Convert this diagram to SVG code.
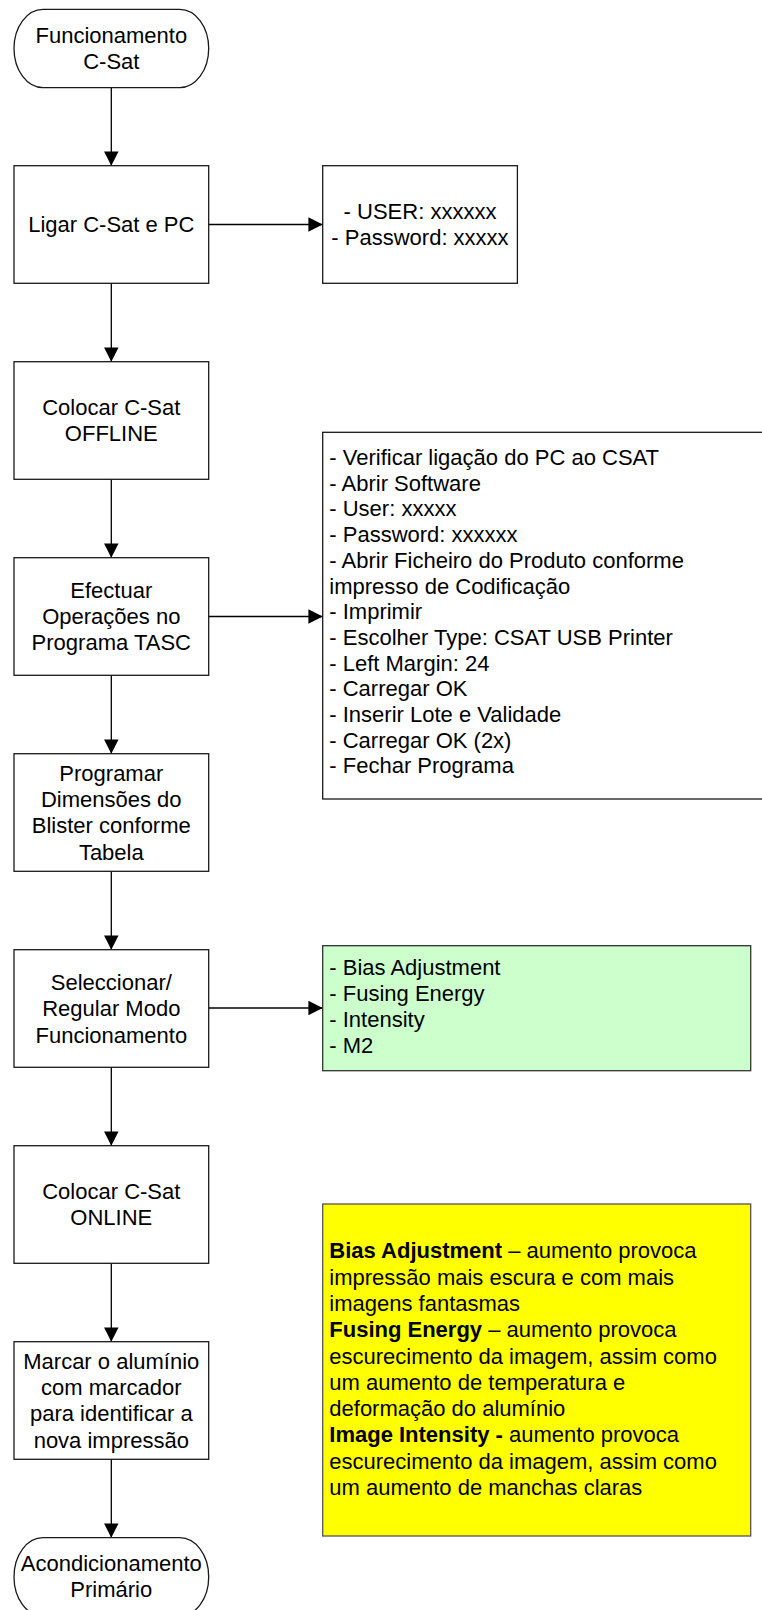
<svg xmlns="http://www.w3.org/2000/svg" width="762" height="1610" viewBox="0 0 762 1610">
  <defs>
    <marker id="arrow" markerWidth="14.5" markerHeight="14.5" refX="14.3" refY="7.25" orient="auto" markerUnits="userSpaceOnUse">
      <path d="M0,0 L14.3,7.25 L0,14.5 Z" fill="#000"/>
    </marker>
    <style>
      .box { fill: #fff; stroke: #1a1a1a; stroke-width: 1.3; }
      .note { fill: #fff; stroke: #1a1a1a; stroke-width: 1.3; }
      .green { fill: #ccffcc; stroke: #333; stroke-width: 1.3; }
      .yellow { fill: #ffff00; stroke: #555; stroke-width: 1.3; }
      .edge { fill: none; stroke: #000; stroke-width: 1.3; marker-end: url(#arrow); }
      text { font-family: "Liberation Sans", Arial, sans-serif; font-size: 22px; fill: #000; }
      .c { text-anchor: middle; }
      .b { font-weight: bold; }
    </style>
  </defs>

  <rect width="762" height="1610" fill="#fff"/>

  <!-- connectors -->
  <g id="connectors">
    <line class="edge" x1="111.3" y1="87.7" x2="111.3" y2="165.7"/>
    <line class="edge" x1="208.7" y1="224.5" x2="322.7" y2="224.5"/>
    <line class="edge" x1="111.3" y1="283.3" x2="111.3" y2="361.7"/>
    <line class="edge" x1="111.3" y1="479.3" x2="111.3" y2="557.7"/>
    <line class="edge" x1="208.7" y1="616.5" x2="322.7" y2="616.5"/>
    <line class="edge" x1="111.3" y1="675.3" x2="111.3" y2="753.7"/>
    <line class="edge" x1="111.3" y1="871.3" x2="111.3" y2="949.7"/>
    <line class="edge" x1="208.7" y1="1008" x2="322.7" y2="1008"/>
    <line class="edge" x1="111.3" y1="1067.3" x2="111.3" y2="1145.7"/>
    <line class="edge" x1="111.3" y1="1263.3" x2="111.3" y2="1341.7"/>
    <line class="edge" x1="111.3" y1="1459.3" x2="111.3" y2="1537.7"/>
  </g>

  <!-- start terminator -->
  <g id="start">
    <rect class="box" x="14" y="9.3" width="194.7" height="78.4" rx="29" ry="39.2"/>
    <text class="c" x="111.3" y="42.5">Funcionamento</text>
    <text class="c" x="111.3" y="68.8">C-Sat</text>
  </g>

  <g id="ligar">
    <rect class="box" x="14" y="165.7" width="194.7" height="117.6"/>
    <text class="c" x="111.3" y="232.2">Ligar C-Sat e PC</text>
  </g>

  <g id="credenciais">
    <rect class="note" x="322.7" y="165.7" width="194.7" height="117.6"/>
    <text class="c" x="420" y="218.5">- USER: xxxxxx</text>
    <text class="c" x="420" y="244.8">- Password: xxxxx</text>
  </g>

  <g id="offline">
    <rect class="box" x="14" y="361.7" width="194.7" height="117.6"/>
    <text class="c" x="111.3" y="415">Colocar C-Sat</text>
    <text class="c" x="111.3" y="441.3">OFFLINE</text>
  </g>

  <g id="tasc">
    <rect class="box" x="14" y="557.7" width="194.7" height="117.6"/>
    <text class="c" x="111.3" y="597.5">Efectuar</text>
    <text class="c" x="111.3" y="623.8">Operações no</text>
    <text class="c" x="111.3" y="650.1">Programa TASC</text>
  </g>

  <g id="passos-tasc">
    <rect class="note" x="322.7" y="432.3" width="460" height="366.7"/>
    <text x="329.3" y="465">- Verificar ligação do PC ao CSAT</text>
    <text x="329.3" y="490.7">- Abrir Software</text>
    <text x="329.3" y="516.4">- User: xxxxx</text>
    <text x="329.3" y="542.1">- Password: xxxxxx</text>
    <text x="329.3" y="567.8">- Abrir Ficheiro do Produto conforme</text>
    <text x="329.3" y="593.5">impresso de Codificação</text>
    <text x="329.3" y="619.2">- Imprimir</text>
    <text x="329.3" y="644.9">- Escolher Type: CSAT USB Printer</text>
    <text x="329.3" y="670.6">- Left Margin: 24</text>
    <text x="329.3" y="696.3">- Carregar OK</text>
    <text x="329.3" y="722">- Inserir Lote e Validade</text>
    <text x="329.3" y="747.7">- Carregar OK (2x)</text>
    <text x="329.3" y="773.4">- Fechar Programa</text>
  </g>

  <g id="dimensoes">
    <rect class="box" x="14" y="753.7" width="194.7" height="117.6"/>
    <text class="c" x="111.3" y="780.8">Programar</text>
    <text class="c" x="111.3" y="807.1">Dimensões do</text>
    <text class="c" x="111.3" y="833.4">Blister conforme</text>
    <text class="c" x="111.3" y="859.7">Tabela</text>
  </g>

  <g id="modo">
    <rect class="box" x="14" y="949.7" width="194.7" height="117.6"/>
    <text class="c" x="111.3" y="989.9">Seleccionar/</text>
    <text class="c" x="111.3" y="1016.2">Regular Modo</text>
    <text class="c" x="111.3" y="1042.5">Funcionamento</text>
  </g>

  <g id="parametros">
    <rect class="green" x="322.7" y="945.7" width="428" height="125"/>
    <text x="329.3" y="974.5">- Bias Adjustment</text>
    <text x="329.3" y="1000.5">- Fusing Energy</text>
    <text x="329.3" y="1026.5">- Intensity</text>
    <text x="329.3" y="1052.5">- M2</text>
  </g>

  <g id="online">
    <rect class="box" x="14" y="1145.7" width="194.7" height="117.6"/>
    <text class="c" x="111.3" y="1198.5">Colocar C-Sat</text>
    <text class="c" x="111.3" y="1224.8">ONLINE</text>
  </g>

  <g id="efeitos">
    <rect class="yellow" x="322.7" y="1204" width="428" height="332"/>
    <text x="329.3" y="1258.3"><tspan class="b">Bias Adjustment</tspan> – aumento provoca</text>
    <text x="329.3" y="1284.6">impressão mais escura e com mais</text>
    <text x="329.3" y="1310.9">imagens fantasmas</text>
    <text x="329.3" y="1337.2"><tspan class="b">Fusing Energy</tspan> – aumento provoca</text>
    <text x="329.3" y="1363.5">escurecimento da imagem, assim como</text>
    <text x="329.3" y="1389.8">um aumento de temperatura e</text>
    <text x="329.3" y="1416.1">deformação do alumínio</text>
    <text x="329.3" y="1442.4"><tspan class="b">Image Intensity -</tspan> aumento provoca</text>
    <text x="329.3" y="1468.7">escurecimento da imagem, assim como</text>
    <text x="329.3" y="1495">um aumento de manchas claras</text>
  </g>

  <g id="marcar">
    <rect class="box" x="14" y="1341.7" width="194.7" height="117.6"/>
    <text class="c" x="111.3" y="1368.8">Marcar o alumínio</text>
    <text class="c" x="111.3" y="1395.1">com marcador</text>
    <text class="c" x="111.3" y="1421.4">para identificar a</text>
    <text class="c" x="111.3" y="1447.7">nova impressão</text>
  </g>

  <!-- end terminator -->
  <g id="fim">
    <rect class="box" x="14" y="1537.7" width="194.7" height="78.4" rx="29" ry="39.2"/>
    <text class="c" x="111.3" y="1570.5">Acondicionamento</text>
    <text class="c" x="111.3" y="1596.8">Primário</text>
  </g>
</svg>
